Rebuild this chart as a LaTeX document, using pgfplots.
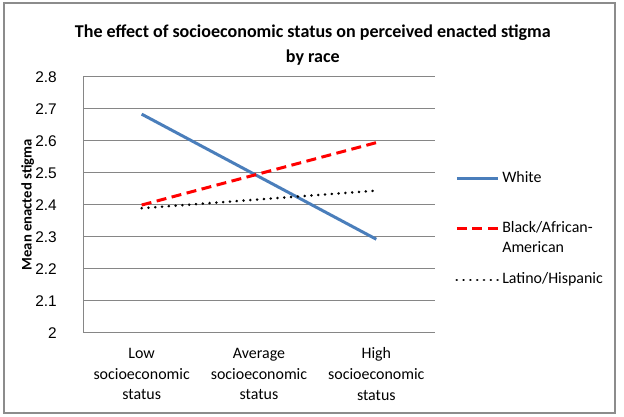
\documentclass[border=0pt]{standalone}
\usepackage{pgfplots}
\pgfplotsset{compat=1.18}
\usepackage{fontspec}
\setmainfont{Carlito}
\newfontfamily\arialfont{Liberation Sans}
\definecolor{wblue}{HTML}{4A7EBB}
\definecolor{gridgray}{HTML}{868686}
\definecolor{bordergray}{HTML}{8C8C8C}
\begin{document}
\begin{tikzpicture}[x=1bp,y=1bp]
\path[use as bounding box] (0,0) rectangle (624,416);
\draw[bordergray, line width=1.2bp] (4,3) rectangle (615,413);
\begin{axis}[
  at={(83bp,83.3bp)}, anchor=south west,
  scale only axis, width=352bp, height=256bp,
  xmin=0.5, xmax=3.5, ymin=2, ymax=2.8,
  xtick={1,2,3},
  xticklabels={Low\\socioeconomic\\status, Average\\socioeconomic\\status, High\\socioeconomic\\status},
  ytick={2,2.1,2.2,2.3,2.4,2.5,2.6,2.7,2.8},
  yticklabels={2,2.1,2.2,2.3,2.4,2.5,2.6,2.7,2.8},
  ymajorgrids, grid style={gridgray, line width=0.8bp},
  axis x line*=bottom, axis y line*=left,
  axis line style={gridgray, line width=0.8bp, -},
  major tick length=0pt,
  yticklabel style={font=\arialfont\fontsize{15.5}{16}\selectfont, anchor=east, inner sep=0pt, xshift=-26bp},
  xticklabel style={font=\fontsize{16}{21}\selectfont, align=center, anchor=north, inner sep=0pt, yshift=-15bp},
  title={The effect of socioeconomic status on perceived enacted stigma\\by race},
  title style={font=\bfseries\fontsize{18.1}{25}\selectfont, align=center, at={(axis description cs:0.653,1.10)}, anchor=center},
  ylabel={Mean enacted stigma},
  every axis y label/.style={at={(axis description cs:-0.157,0.5)}, rotate=90, anchor=center, inner sep=0pt, font=\bfseries\fontsize{14.7}{16}\selectfont},
  legend style={at={(axis description cs:1.057,0.632)}, anchor=north west, draw=none, fill=none, inner sep=0pt, row sep=12.5bp, column sep=3bp, font=\fontsize{16}{20.5}\selectfont, nodes={inner sep=0pt}, cells={anchor=base west}},
  legend image code/.code={\draw[#1] (0bp,3.8bp) -- (41bp,3.8bp);},
]
\addplot[wblue, line width=3bp] coordinates {(1,2.683) (2,2.4875) (3,2.292)};
\addlegendentry[anchor=base west, text depth=26.5bp]{White}
\addplot[red, line width=3bp, dash pattern=on 10bp off 5.5bp] coordinates {(1,2.399) (2,2.4965) (3,2.594)};
\addlegendentry[anchor=base west, text depth=28bp]{\vtop{\hbox{Black/African-}\hbox{American}}}
\addplot[black, line width=2.8bp, line cap=round, dash pattern=on 0.01bp off 6.8bp] coordinates {(1,2.389) (2,2.4165) (3,2.444)};
\addlegendentry[anchor=base west]{Latino/Hispanic}
\end{axis}
\end{tikzpicture}
\end{document}
